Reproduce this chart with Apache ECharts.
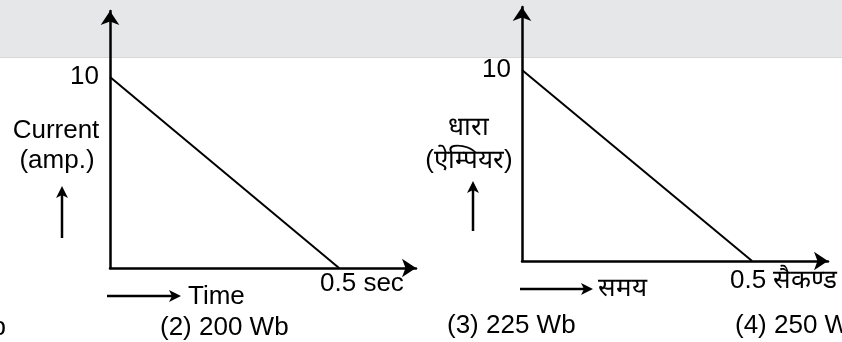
<!DOCTYPE html>
<html>
<head>
<meta charset="utf-8">
<script src="https://cdn.jsdelivr.net/npm/echarts@6/dist/echarts.min.js"></script>
<style>
html,body{margin:0;padding:0;background:#fff;}
#c{width:842px;height:342px;}
</style>
</head>
<body>
<div id="c"></div>
<script>
// ---- data ----
const timeValues = [0, 0.5];
const currentValues = [10, 0];
const yTickValues = [10];
const xTickValues = [0.5];
const xTickLabelEn = '0.5 sec';
const xTickLabelHi = '0.5 सैकण्ड';
const yNameEn = ['Current', '(amp.)'];
const yNameHi = ['धारा', '(ऐम्पियर)'];
const xNameEn = 'Time';
const xNameHi = 'समय';
const answerOptions = ['(1) 175 Wb', '(2) 200 Wb', '(3) 225 Wb', '(4) 250 Wb'];

const FONT = '"Liberation Sans", Arial, sans-serif';
const FS = 26;
const seriesData = timeValues.map((t, i) => [t, currentValues[i]]);

const chart = echarts.init(document.getElementById('c'), null, {renderer: 'canvas'});

function xAxisCfg(idx, max) {
  return {
    type: 'value', gridIndex: idx, min: 0, max: max,
    axisLine: {show: true, symbol: ['none', 'arrow'], symbolSize: [14, 14], lineStyle: {color: '#000', width: 2.5}},
    axisTick: {show: false}, splitLine: {show: false}, axisLabel: {show: false}
  };
}
function yAxisCfg(idx, max) {
  return {
    type: 'value', gridIndex: idx, min: 0, max: max,
    axisLine: {show: true, symbol: ['none', 'arrow'], symbolSize: [14, 14], lineStyle: {color: '#000', width: 2.5}},
    axisTick: {show: false}, splitLine: {show: false},
    axisLabel: {show: true, customValues: yTickValues, color: '#000', fontSize: FS, fontFamily: FONT, margin: 11}
  };
}

const option = {
  animation: false,
  backgroundColor: '#fff',
  grid: [
    {left: 110, top: 11, width: 306, height: 257},
    {left: 522, top: 7, width: 306, height: 254}
  ],
  xAxis: [xAxisCfg(0, 0.668), xAxisCfg(1, 0.665)],
  yAxis: [yAxisCfg(0, 13.46), yAxisCfg(1, 13.3)],
  series: [
    {type: 'line', xAxisIndex: 0, yAxisIndex: 0, data: seriesData, symbol: 'none', lineStyle: {color: '#000', width: 2}},
    {type: 'line', xAxisIndex: 1, yAxisIndex: 1, data: seriesData, symbol: 'none', lineStyle: {color: '#000', width: 2}}
  ]
};
chart.setOption(option);

function arrowShapes(x1, y1, x2, y2) {
  const ang = Math.atan2(y2 - y1, x2 - x1);
  const L = 12, W = 6, notch = 9;
  const c = Math.cos(ang), s = Math.sin(ang);
  const p = (dx, dy) => [x2 + dx * c - dy * s, y2 + dx * s + dy * c];
  return [
    {type: 'line', shape: {x1: x1, y1: y1, x2: p(-notch, 0)[0], y2: p(-notch, 0)[1]}, style: {stroke: '#000', lineWidth: 2.5}},
    {type: 'polygon', shape: {points: [p(0, 0), p(-L, -W), p(-notch, 0), p(-L, W)]}, style: {fill: '#000'}}
  ];
}

function txt(x, y, text, align, fs) {
  return {type: 'text', x: x, y: y, style: {text: text, fill: '#000', font: (fs || FS) + 'px ' + FONT, align: align || 'left', verticalAlign: 'middle'}};
}

const p1 = chart.convertToPixel({xAxisIndex: 0, yAxisIndex: 0}, [xTickValues[0], 0]);
const p2 = chart.convertToPixel({xAxisIndex: 1, yAxisIndex: 1}, [xTickValues[0], 0]);

const g = [
  {type: 'rect', z: -10, shape: {x: 0, y: 0, width: 842, height: 57}, style: {fill: '#e6e7e8'}},
  {type: 'line', z: -10, shape: {x1: 0, y1: 57.5, x2: 842, y2: 57.5}, style: {stroke: '#d8d9d6', lineWidth: 1}},
  txt(56, 131, yNameEn[0], 'center'),
  txt(57, 161, yNameEn[1], 'center'),
  txt(468, 128, yNameHi[0], 'center'),
  txt(469, 161, yNameHi[1], 'center'),
  txt(188, 297, xNameEn, 'left'),
  txt(598, 289, xNameHi, 'left'),
  txt(p1[0] - 19, 284, xTickLabelEn, 'left'),
  txt(p2[0] - 22, 281, xTickLabelHi, 'left'),
  txt(6, 328, answerOptions[0], 'right'),
  txt(160, 328, answerOptions[1], 'left'),
  txt(447, 326, answerOptions[2], 'left'),
  txt(735, 326, answerOptions[3], 'left')
].concat(arrowShapes(62, 238, 62, 186))
 .concat(arrowShapes(107, 296, 181, 296))
 .concat(arrowShapes(473, 231, 473, 181))
 .concat(arrowShapes(520, 289, 593, 289));

chart.setOption({graphic: g.map(e => Object.assign({silent: true}, e))});
</script>
</body>
</html>
